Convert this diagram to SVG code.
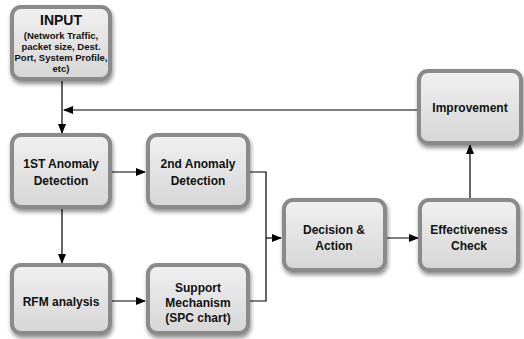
<svg xmlns="http://www.w3.org/2000/svg" width="524" height="339" viewBox="0 0 524 339">
<defs>
<linearGradient id="g" x1="0" y1="0" x2="0" y2="1">
<stop offset="0" stop-color="#f0f0f0"/>
<stop offset="1" stop-color="#d6d6d6"/>
</linearGradient>
<filter id="sh" x="-20%" y="-20%" width="140%" height="140%">
<feGaussianBlur in="SourceAlpha" stdDeviation="2"/>
<feOffset dx="1" dy="3" result="b"/>
<feComponentTransfer><feFuncA type="linear" slope="0.45"/></feComponentTransfer>
<feMerge><feMergeNode/><feMergeNode in="SourceGraphic"/></feMerge>
</filter>
<marker id="ah" markerWidth="10" markerHeight="8" refX="9" refY="4" orient="auto" markerUnits="userSpaceOnUse">
<path d="M0,0 L10,4 L0,8 Z" fill="#000"/>
</marker>
</defs>
<style>
.box{fill:url(#g);stroke:#8a8a8a;stroke-width:4;filter:url(#sh)}
.t{font-family:"Liberation Sans",Arial,sans-serif;font-weight:bold;font-size:12px;fill:#111;text-anchor:middle}
.s{font-size:9.5px}
.h{font-size:14px}
.c{fill:none;stroke:#000;stroke-width:1.2}
</style>
<rect width="524" height="339" fill="#fff"/>
<g id="connectors">
<path class="c" d="M62,80 V133" marker-end="url(#ah)"/>
<path class="c" d="M418,110 H64" marker-end="url(#ah)"/>
<path class="c" d="M110,172 H145" marker-end="url(#ah)"/>
<path class="c" d="M62,208 V263" marker-end="url(#ah)"/>
<path class="c" d="M110,301 H145" marker-end="url(#ah)"/>
<path class="c" d="M248,172 H266 V301 H248"/>
<path class="c" d="M266,238 H281" marker-end="url(#ah)"/>
<path class="c" d="M385,238 H418" marker-end="url(#ah)"/>
<path class="c" d="M470,200 V145" marker-end="url(#ah)"/>
</g>
<g id="input">
<rect class="box" x="12" y="7" width="98" height="72" rx="9"/>
<text class="t h" x="61" y="25">INPUT</text>
<text class="t s" x="61" y="39">(Network Traffic,</text>
<text class="t s" x="61" y="50">packet size, Dest.</text>
<text class="t s" x="61" y="61">Port, System Profile,</text>
<text class="t s" x="61" y="72">etc)</text>
</g>
<g id="anomaly1">
<rect class="box" x="12" y="135" width="98" height="72" rx="9"/>
<text class="t" x="61" y="168">1ST Anomaly</text>
<text class="t" x="61" y="185">Detection</text>
</g>
<g id="anomaly2">
<rect class="box" x="148" y="135" width="100" height="72" rx="9"/>
<text class="t" x="198" y="168">2nd Anomaly</text>
<text class="t" x="198" y="185">Detection</text>
</g>
<g id="rfm">
<rect class="box" x="12" y="265" width="98" height="68" rx="9"/>
<text class="t" x="61" y="306">RFM analysis</text>
</g>
<g id="support">
<rect class="box" x="148" y="265" width="100" height="68" rx="9"/>
<text class="t" x="198" y="292">Support</text>
<text class="t" x="198" y="307">Mechanism</text>
<text class="t" x="198" y="322">(SPC chart)</text>
</g>
<g id="decision">
<rect class="box" x="284" y="200" width="101" height="70" rx="9"/>
<text class="t" x="334" y="234">Decision &amp;</text>
<text class="t" x="334" y="250">Action</text>
</g>
<g id="effectiveness">
<rect class="box" x="420" y="200" width="98" height="70" rx="9"/>
<text class="t" x="469" y="234">Effectiveness</text>
<text class="t" x="469" y="250">Check</text>
</g>
<g id="improvement">
<rect class="box" x="419" y="71" width="102" height="72" rx="9"/>
<text class="t" x="470" y="112">Improvement</text>
</g>
</svg>
